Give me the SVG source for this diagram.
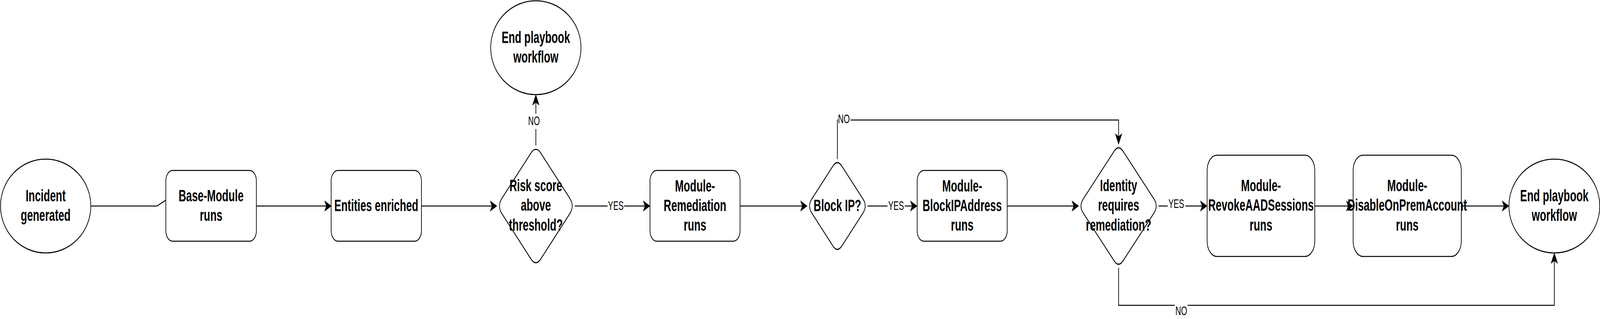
<svg xmlns="http://www.w3.org/2000/svg" width="6378" height="816" viewBox="0 0 6378 816" preserveAspectRatio="none" style="width:100vw;height:100vh;display:block">
<style>
.shape{fill:#ffffff;stroke:#000000;stroke-width:2.7}
.edge{fill:none;stroke:#000000;stroke-width:2.7}
.t{font-family:"Liberation Sans",Arial,sans-serif;font-size:41.6px;font-weight:bold;fill:#000000;text-anchor:middle}
.lbl{font-family:"Liberation Sans",Arial,sans-serif;font-size:31.2px;fill:#000000;text-anchor:middle}
.lblbg{fill:#ffffff;stroke:none}
</style>
<defs>
<marker id="arr" markerUnits="userSpaceOnUse" orient="auto" refX="0" refY="0" markerWidth="40" markerHeight="40" overflow="visible">
<path d="M20,0 L-7,-13.3 L0,0 L-7,13.3 Z" fill="#000000" stroke="#000000" stroke-width="1"/>
</marker>
</defs>
<rect x="0" y="0" width="6378" height="816" fill="#ffffff"/>

<g id="connectors">
<path class="edge" d="M362,527 H626 L661,512"/>
<path class="edge" d="M1022,527 H1301" marker-end="url(#arr)"/>
<path class="edge" d="M1680,527 H1961" marker-end="url(#arr)"/>
<path class="edge" d="M2136,372 V262" marker-end="url(#arr)"/>
<path class="edge" d="M2291,527 H2571" marker-end="url(#arr)"/>
<path class="edge" d="M2950,527 H3198" marker-end="url(#arr)"/>
<path class="edge" d="M3458,527 H3636" marker-end="url(#arr)"/>
<path class="edge" d="M3338,407 V307 H4459 V349" marker-end="url(#arr)"/>
<path class="edge" d="M4015,527 H4280" marker-end="url(#arr)"/>
<path class="edge" d="M4618,527 H4792" marker-end="url(#arr)"/>
<path class="edge" d="M5241,527 H5374" marker-end="url(#arr)"/>
<path class="edge" d="M5825,527 H5995" marker-end="url(#arr)"/>
<path class="edge" d="M4459,685 V781 H6196 V667" marker-end="url(#arr)"/>

<rect class="lblbg" x="2104" y="291" width="50" height="39"/>
<text class="lbl" x="2128.7" y="320">NO</text>
<rect class="lblbg" x="2422" y="508" width="66" height="39"/>
<text class="lbl" x="2455" y="537">YES</text>
<rect class="lblbg" x="3538" y="508" width="68" height="39"/>
<text class="lbl" x="3572" y="537">YES</text>
<rect class="lblbg" x="3340" y="288" width="50" height="36"/>
<text class="lbl" x="3364" y="315">NO</text>
<rect class="lblbg" x="4655" y="503" width="70" height="39"/>
<text class="lbl" x="4689" y="532">YES</text>
<rect class="lblbg" x="4683" y="777" width="51" height="38"/>
<text class="lbl" x="4708.7" y="805.7">NO</text>
</g>

<g id="incident-generated">
<ellipse class="shape" cx="182" cy="527" rx="180" ry="120"/>
<text class="t" x="182" y="515">Incident</text>
<text class="t" x="182" y="565">generated</text>
</g>

<g id="base-module">
<rect class="shape" x="661" y="436" width="361" height="181" rx="27" ry="27"/>
<text class="t" x="841.5" y="515">Base-Module</text>
<text class="t" x="841.5" y="565">runs</text>
</g>

<g id="entities-enriched">
<rect class="shape" x="1320" y="436" width="360" height="181" rx="27" ry="27"/>
<text class="t" x="1500" y="540">Entities enriched</text>
</g>

<g id="risk-score">
<path class="shape" d="M2116.2,391.8 Q2136,372 2155.8,391.8 L2271.2,507.2 Q2291,527 2271.2,546.8 L2155.8,662.2 Q2136,682 2116.2,662.2 L2000.8,546.8 Q1981,527 2000.8,507.2 Z"/>
<text class="t" x="2136" y="489">Risk score</text>
<text class="t" x="2136" y="539">above</text>
<text class="t" x="2136" y="590">threshold?</text>
</g>

<g id="end-top">
<ellipse class="shape" cx="2136" cy="122" rx="180" ry="120"/>
<text class="t" x="2136" y="110">End playbook</text>
<text class="t" x="2136" y="160">workflow</text>
</g>

<g id="module-remediation">
<rect class="shape" x="2591" y="436" width="359" height="181" rx="27" ry="27"/>
<text class="t" x="2770.5" y="490">Module-</text>
<text class="t" x="2770.5" y="540">Remediation</text>
<text class="t" x="2770.5" y="590">runs</text>
</g>

<g id="block-ip">
<path class="shape" d="M3320,425 Q3338,407 3356,425 L3440,509 Q3458,527 3440,545 L3356,629 Q3338,647 3320,629 L3236,545 Q3218,527 3236,509 Z"/>
<text class="t" x="3338" y="540">Block IP?</text>
</g>

<g id="module-blockipaddress">
<rect class="shape" x="3656" y="436" width="359" height="181" rx="27" ry="27"/>
<text class="t" x="3835.5" y="490">Module-</text>
<text class="t" x="3835.5" y="540">BlockIPAddress</text>
<text class="t" x="3835.5" y="590">runs</text>
</g>

<g id="identity-remediation">
<path class="shape" d="M4441,387 Q4459,369 4477,387 L4600,509 Q4618,527 4600,545 L4477,667 Q4459,685 4441,667 L4318,545 Q4300,527 4318,509 Z"/>
<text class="t" x="4459" y="489">Identity</text>
<text class="t" x="4459" y="539">requires</text>
<text class="t" x="4459" y="590">remediation?</text>
</g>

<g id="module-revokeaadsessions">
<rect class="shape" x="4812" y="397" width="429" height="259" rx="39" ry="39"/>
<text class="t" x="5026.5" y="489">Module-</text>
<text class="t" x="5026.5" y="539">RevokeAADSessions</text>
<text class="t" x="5026.5" y="590">runs</text>
</g>

<g id="module-disableonpremaccount">
<rect class="shape" x="5394" y="397" width="431" height="259" rx="39" ry="39"/>
<text class="t" x="5609.5" y="489">Module-</text>
<text class="t" x="5609.5" y="539">DisableOnPremAccount</text>
<text class="t" x="5609.5" y="590">runs</text>
</g>

<g id="end-right">
<ellipse class="shape" cx="6196" cy="527" rx="181" ry="120"/>
<text class="t" x="6196" y="515">End playbook</text>
<text class="t" x="6196" y="565">workflow</text>
</g>
</svg>
